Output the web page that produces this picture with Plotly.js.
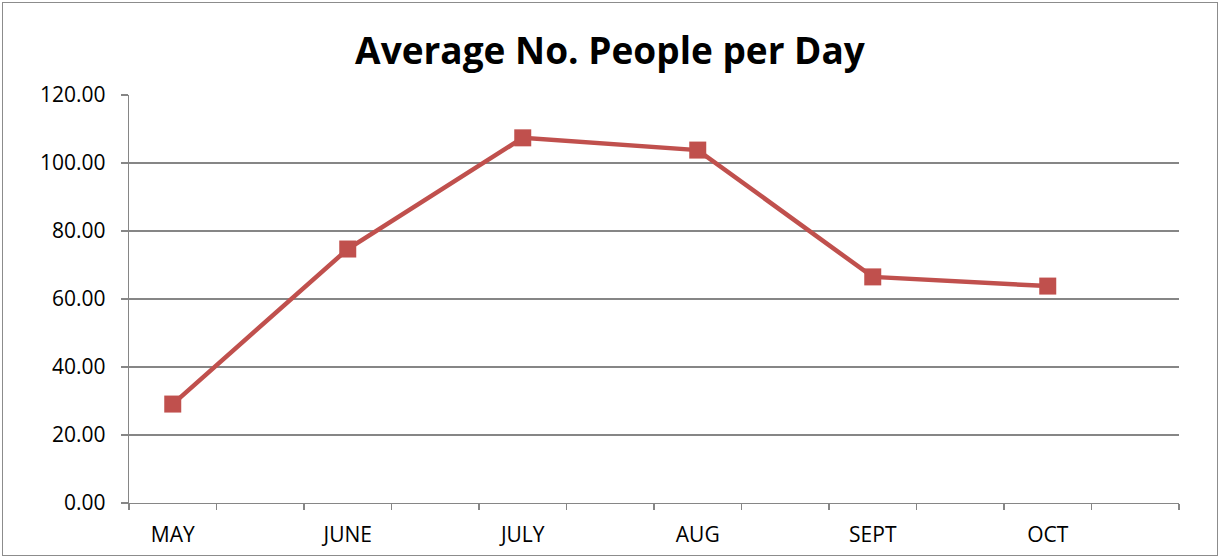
<!DOCTYPE html>
<html>
<head>
<meta charset="utf-8">
<script src="https://cdn.plot.ly/plotly-3.0.1.min.js"></script>
<style>
  html, body { margin: 0; padding: 0; background: #fff; }
  #frame { position: absolute; left: 2px; top: 2px; width: 1214px; height: 552px; border: 1px solid #8c8c8c; }
  #chart { width: 1214px; height: 552px; }
</style>
</head>
<body>
<div id="frame"><div id="chart"></div></div>
<script>
const months = ['MAY', 'JUNE', 'JULY', 'AUG', 'SEPT', 'OCT'];
const avgPeople = [29.1, 74.7, 107.4, 103.8, 66.5, 63.8];
const yTicks = [0, 20, 40, 60, 80, 100, 120];

// Each month occupies two category slots (the second left blank), as in the source chart
const slots = [];
months.forEach((m, i) => { slots.push(m); slots.push(' '.repeat(i + 1)); });

const trace = {
  type: 'scatter',
  mode: 'lines+markers',
  x: months,
  y: avgPeople,
  line: { color: '#C0504D', width: 4.5 },
  marker: { symbol: 'square', size: 17, color: '#C0504D' },
  hoverinfo: 'x+y'
};

const gray = '#868686';
const layout = {
  width: 1214, height: 552,
  margin: { l: 126, r: 38, t: 92, b: 52 },
  paper_bgcolor: '#ffffff', plot_bgcolor: '#ffffff',
  showlegend: false,
  title: {
    text: '<b>Average No. People per Day</b>',
    font: { family: '"Open Sans", sans-serif', size: 37, color: '#000' },
    x: 0.5, xanchor: 'center', xref: 'container',
    y: 0.913, yanchor: 'middle', yref: 'container'
  },
  xaxis: {
    type: 'category',
    categoryorder: 'array', categoryarray: slots,
    range: [-0.5, slots.length - 0.5],
    tickson: 'boundaries',
    ticks: 'outside', ticklen: 6, tickcolor: gray, tickwidth: 1.3,
    showline: true, linecolor: gray, linewidth: 1.3,
    showgrid: false, zeroline: false,
    tickfont: { family: '"Open Sans", sans-serif', size: 21, color: '#000' },
    ticklabelstandoff: 12,
    fixedrange: true
  },
  yaxis: {
    range: [0, 120],
    tickmode: 'array', tickvals: yTicks,
    tickformat: '.2f',
    ticks: 'outside', ticklen: 7, tickcolor: gray, tickwidth: 1.3,
    showline: true, linecolor: gray, linewidth: 1.3,
    showgrid: true, gridcolor: gray, gridwidth: 1.3,
    zeroline: false,
    tickfont: { family: '"Open Sans", sans-serif', size: 21, color: '#000' },
    ticklabelstandoff: 11,
    fixedrange: true
  }
};

Plotly.newPlot('chart', [trace], layout, { displayModeBar: false, staticPlot: true });
</script>
</body>
</html>
